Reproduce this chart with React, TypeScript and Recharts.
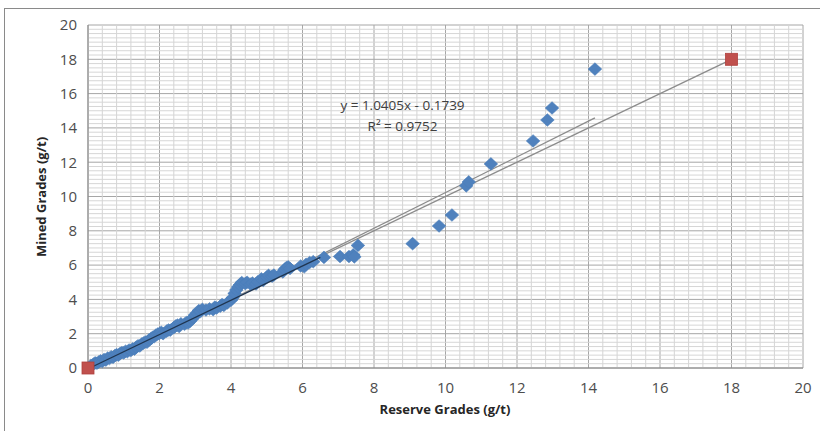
import { CartesianGrid, ReferenceLine, Scatter, ScatterChart, XAxis, YAxis } from "recharts";

// reserve vs mined grades (g/t)
const reserveGrades = [
  0.08, 0.15, 0.2, 0.25, 0.3, 0.35, 0.4, 0.45, 0.5, 0.55, 0.6, 0.65, 0.7, 0.75, 0.8, 0.85, 0.9, 0.95,
  1.0, 1.05, 1.1, 1.15, 1.2, 1.25, 1.3, 1.35, 1.4, 1.45, 1.5, 1.55, 1.6, 1.65, 1.7, 1.75, 1.8, 1.85,
  1.9, 1.95, 2.0, 2.05, 2.1, 2.2, 2.25, 2.3, 2.4, 2.45, 2.5, 2.55, 2.6, 2.7, 2.75, 2.8, 2.85, 2.9,
  2.95, 3.0, 3.05, 3.1, 3.15, 3.2, 3.3, 3.4, 3.5, 3.55, 3.6, 3.7, 3.75, 3.8, 3.9, 4.0, 4.05, 4.1,
  4.15, 4.2, 4.25, 4.3, 4.4, 4.45, 4.55, 4.6, 4.7, 4.75, 4.85, 4.9, 5.0, 5.05, 5.15, 5.2, 5.45, 5.5,
  5.55, 5.6, 5.65, 5.95, 6.05, 6.1, 6.2, 6.3, 6.6, 7.05, 7.3, 7.42, 7.45, 7.55,
  9.08, 9.82, 10.18, 10.58, 10.65, 11.27, 12.45, 12.85, 12.98, 14.18,
];
const minedGrades = [
  0.15, 0.22, 0.3, 0.28, 0.35, 0.42, 0.38, 0.5, 0.46, 0.58, 0.55, 0.66, 0.62, 0.72, 0.78, 0.74, 0.85, 0.9,
  0.88, 0.98, 0.95, 1.05, 1.02, 1.12, 1.1, 1.22, 1.3, 1.28, 1.4, 1.45, 1.52, 1.5, 1.62, 1.7, 1.78, 1.82,
  1.92, 1.98, 2.02, 2.08, 2.0, 2.15, 2.22, 2.2, 2.35, 2.45, 2.5, 2.42, 2.58, 2.55, 2.65, 2.62, 2.72, 2.85,
  2.95, 3.1, 3.2, 3.35, 3.3, 3.42, 3.38, 3.45, 3.4, 3.55, 3.5, 3.6, 3.7, 3.65, 3.8, 3.95, 4.1, 4.35,
  4.55, 4.72, 4.85, 4.98, 4.92, 5.0, 4.88, 4.95, 4.9, 5.02, 5.2, 5.1, 5.3, 5.4, 5.35, 5.42, 5.6, 5.75,
  5.85, 5.9, 5.8, 5.95, 5.9, 6.05, 6.15, 6.2, 6.45, 6.5, 6.5, 6.6, 6.48, 7.15,
  7.25, 8.28, 8.92, 10.62, 10.85, 11.9, 13.24, 14.46, 15.16, 17.43,
];

const endPointsX = [0, 18];
const endPointsY = [0, 18];

// linear trend y = 1.0405x - 0.1739 over the data range
const trendX = [0.17, 14.18];
const trendY = [0.0, 14.58];

// darker line over the dense part
const denseLineX = [0.05, 6.5];
const denseLineY = [0.0, 6.45];

const axisTicks = [0, 2, 4, 6, 8, 10, 12, 14, 16, 18, 20];
const minorX = Array.from({ length: 51 }, (_, i) => +(i * 0.4).toFixed(2)).filter((v) => v % 2 !== 0);
const minorY = Array.from({ length: 81 }, (_, i) => i * 0.25).filter((v) => v % 2 !== 0);

const toPoints = (xs: number[], ys: number[]) => xs.map((x, i) => ({ x, y: ys[i] }));

const mainData = toPoints(reserveGrades, minedGrades);
const endData = toPoints(endPointsX, endPointsY);
const trendData = toPoints(trendX, trendY);
const denseData = toPoints(denseLineX, denseLineY);

const font = "'Open Sans', sans-serif";

const Diamond = (props: any) => {
  const { cx, cy } = props;
  return (
    <path
      d={`M${cx},${cy - 6.3}L${cx + 6.8},${cy}L${cx},${cy + 6.3}L${cx - 6.8},${cy}Z`}
      fill="#4F81BD"
      stroke="#4A7EBB"
      strokeWidth={0.6}
    />
  );
};

const Square = (props: any) => {
  const { cx, cy } = props;
  return <rect x={cx - 6} y={cy - 6} width={12} height={12} fill="#C0504D" stroke="#B0403D" strokeWidth={0.8} />;
};

const NoDot = () => <g />;

export default function App() {
  return (
    <div style={{ position: "absolute", left: 0, top: 0, width: 820, height: 431, overflow: "hidden", background: "#fff", fontFamily: font }}>
      <div style={{ position: "absolute", left: 4, top: 8, width: 840, height: 460, border: "1.5px solid #8a8a8a" }} />
      <ScatterChart width={820} height={431} margin={{ top: 25, right: 17, bottom: 33, left: 0 }} style={{ position: "absolute", left: 0, top: 0 }}>
        {minorX.map((v) => (
          <ReferenceLine key={"mx" + v} x={v} stroke="#d4d4d4" strokeWidth={1} />
        ))}
        {minorY.map((v) => (
          <ReferenceLine key={"my" + v} y={v} stroke="#d6d6d6" strokeWidth={1} />
        ))}
        <CartesianGrid stroke="#a6a6a6" strokeWidth={1} />
        <XAxis
          type="number"
          dataKey="x"
          domain={[0, 20]}
          ticks={axisTicks}
          interval={0}
          height={30}
          tickLine={false}
          tickSize={0}
          tickMargin={14}
          stroke="#868686"
          tick={{ fill: "#4d4d4d", fontSize: 15, fontFamily: font }}
        />
        <YAxis
          type="number"
          dataKey="y"
          domain={[0, 20]}
          ticks={axisTicks}
          interval={0}
          width={88}
          tickLine={false}
          tickSize={0}
          tickMargin={11}
          stroke="#868686"
          tick={{ fill: "#4d4d4d", fontSize: 15, fontFamily: font }}
        />
        <Scatter data={endData} shape={NoDot} line={{ stroke: "#8c8c8c", strokeWidth: 1.3 }} isAnimationActive={false} />
        <Scatter data={trendData} shape={NoDot} line={{ stroke: "#8c8c8c", strokeWidth: 1.3 }} isAnimationActive={false} />
        <Scatter data={mainData} shape={Diamond} isAnimationActive={false} />
        <Scatter data={denseData} shape={NoDot} line={{ stroke: "#1f3550", strokeWidth: 1.3 }} isAnimationActive={false} />
        <Scatter data={endData} shape={Square} isAnimationActive={false} />
      </ScatterChart>
      <div style={{ position: "absolute", left: 300, top: 95, width: 205, textAlign: "center", fontSize: 13.5, color: "#404040", lineHeight: "21px" }}>
        y = 1.0405x - 0.1739
        <br />
        R² = 0.9752
      </div>
      <div style={{ position: "absolute", left: 345, top: 400, width: 200, textAlign: "center", fontSize: 13, fontWeight: 700, color: "#262626" }}>
        Reserve Grades (g/t)
      </div>
      <div
        style={{
          position: "absolute",
          left: 41 - 100,
          top: 197 - 10,
          width: 200,
          height: 20,
          lineHeight: "20px",
          textAlign: "center",
          fontSize: 13,
          fontWeight: 700,
          color: "#262626",
          transform: "rotate(-90deg)",
        }}
      >
        Mined Grades (g/t)
      </div>
    </div>
  );
}
